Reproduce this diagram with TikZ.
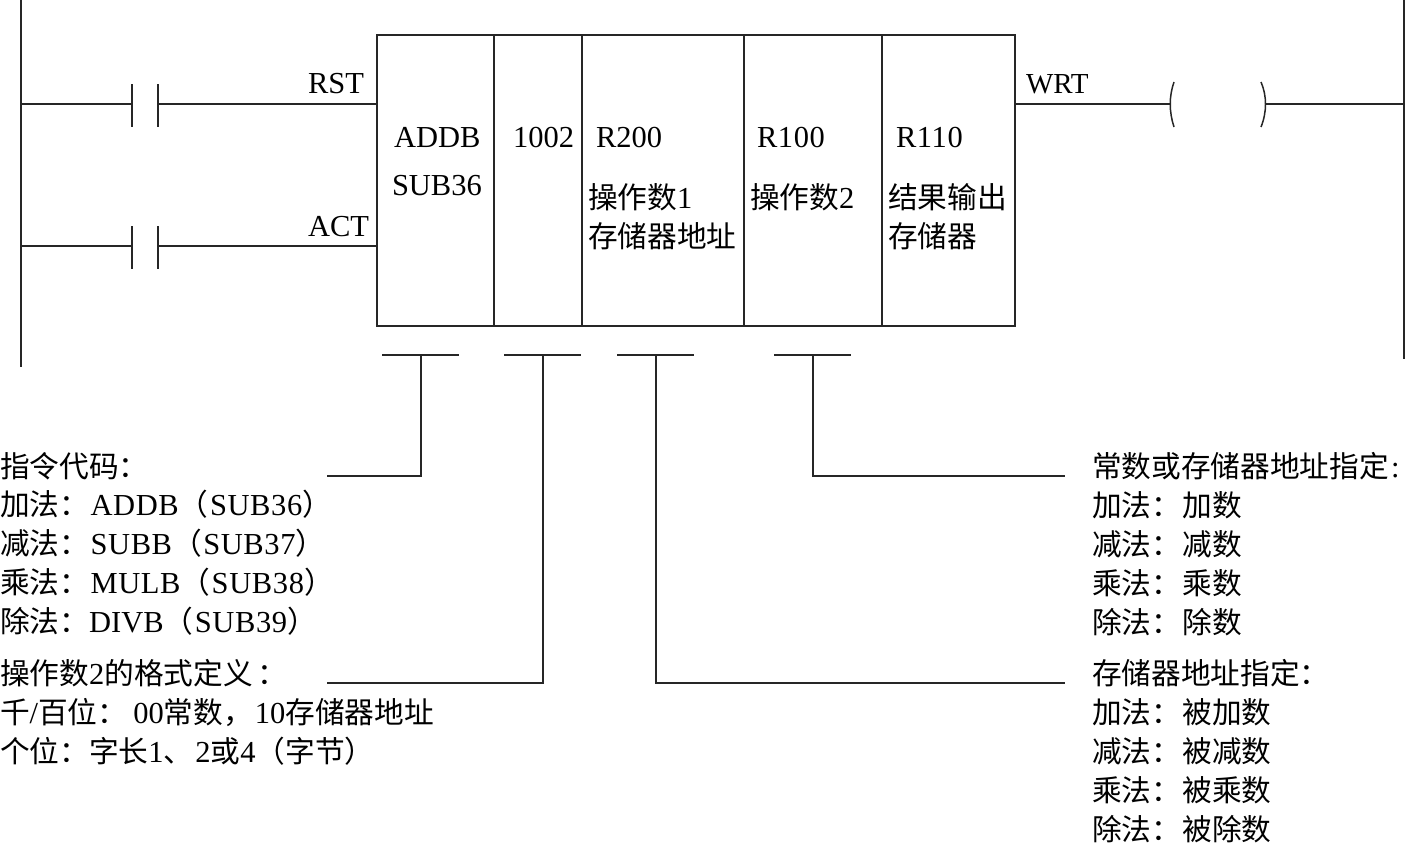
\documentclass[tikz,border=0pt]{standalone}
\usepackage{fontspec}
\setmainfont{Liberation Serif}
\newfontfamily\cjk{Noto Sans CJK SC}
\newfontfamily\lat[LetterSpace=2]{Liberation Serif}
\newcommand{\C}[1]{{\cjk\fontsize{29.7}{32}\selectfont #1}}
\newcommand{\Lt}[1]{\hspace{1.5pt}{\lat #1}}
\tikzset{
  wire/.style={draw=black!85,line width=1.2pt},
  txt/.style={anchor=base west,inner sep=0pt,outer sep=0pt,font=\fontsize{30.5}{34}\selectfont,text=black},
  pad/.style={inner sep=0pt,minimum size=0pt},
}
\begin{document}
\begin{tikzpicture}[x=1pt,y=-1pt]
\useasboundingbox (0,0) rectangle (1405,843);
% rails
\coordinate (railLT) at (21,0); \coordinate (railLB) at (21,367);
\coordinate (railRT) at (1404,0); \coordinate (railRB) at (1404,359);
\draw[wire] (railLT) -- (railLB);
\draw[wire] (railRT) -- (railRB);
% main box
\node[pad] (boxTL) at (377,35) {}; \node[pad] (boxBR) at (1015,326) {};
\draw[wire] (boxTL) rectangle (boxBR);
\foreach \x/\n in {494/a,582/b,744/c,882/d}{
  \draw[wire] (\x,35) -- (\x,326);
}
% contacts
\coordinate (rstL) at (21,104); \coordinate (rstC1) at (132,104); \coordinate (rstC2) at (158,104); \coordinate (rstE) at (377,104);
\coordinate (actL) at (21,246); \coordinate (actC1) at (132,246); \coordinate (actC2) at (158,246); \coordinate (actE) at (377,246);
\draw[wire] (rstL) -- (rstC1); \draw[wire] (rstC2) -- (rstE);
\draw[wire] (actL) -- (actC1); \draw[wire] (actC2) -- (actE);
\draw[wire] (132,84) -- (132,127); \draw[wire] (158,84) -- (158,127);
\draw[wire] (132,226) -- (132,269); \draw[wire] (158,226) -- (158,269);
% coil
\coordinate (wrtS) at (1015,104); \coordinate (wrtC) at (1170,104);
\coordinate (coilR) at (1266,104); \coordinate (railR) at (1404,104);
\draw[wire] (wrtS) -- (wrtC);
\draw[wire] (coilR) -- (railR);
\draw[wire,line width=1.5pt] (1174,82) .. controls (1169,96) and (1169,112) .. (1174,127);
\draw[wire,line width=1.5pt] (1261,82) .. controls (1267,96) and (1267,112) .. (1261,127);
% brackets
\draw[wire] (382,355) -- (459,355);
\draw[wire] (504,355) -- (581,355);
\draw[wire] (617,355) -- (694,355);
\draw[wire] (774,355) -- (851,355);
\draw[wire] (421,355) -- (421,476) -- (327,476);
\draw[wire] (543,355) -- (543,683) -- (327,683);
\draw[wire] (656,355) -- (656,683) -- (1065,683);
\draw[wire] (813,355) -- (813,476) -- (1065,476);
% labels
\node[txt] (tRST) at (308,93) {RST};
\node[txt] (tACT) at (308,236) {ACT};
\node[txt,font=\fontsize{29}{32}\selectfont] (tWRT) at (1026,93) {WRT};
\node[txt] (tADDB) at (394,147) {ADDB};
\node[txt] (tSUB) at (392,195) {SUB36};
\node[txt] (t1002) at (513,147) {1002};
\node[txt] (tR200) at (596,147) {R200};
\node[txt] (tR100) at (757,147) {{\lat R100}};
\node[txt] (tR110) at (896,147) {{\lat R110}};
\node[txt] (tO1) at (588,208) {\C{操作数}1};
\node[txt] (tO1b) at (588,247) {\C{存储器地址}};
\node[txt] (tO2) at (750,208) {\C{操作数}2};
\node[txt] (tRes) at (888,208) {\C{结果输出}};
\node[txt] (tResb) at (888,247) {\C{存储器}};
% left notes
\node[txt] (l1) at (0,477) {\C{指令代码：}};
\node[txt] (l2) at (0,515) {\C{加法：}\Lt{ADDB}\C{（}\Lt{SUB36}\C{）}};
\node[txt] (l3) at (0,554) {\C{减法：}\Lt{SUBB}\C{（}\Lt{SUB37}\C{）}};
\node[txt] (l4) at (0,593) {\C{乘法：}\Lt{MULB}\C{（}\Lt{SUB38}\C{）}};
\node[txt] (l5) at (0,632) {\C{除法：}DIVB\C{（}\Lt{SUB39}\C{）}};
\node[txt] (l6) at (0,684) {\C{操作数}2\C{的格式定义}\hspace{5pt}\C{：}};
\node[txt] (l7) at (0,723) {\C{千}/\C{百位：}\hspace{6pt}00\C{常数，}\hspace{2pt}10\C{存储器地址}};
\node[txt] (l8) at (0,762) {\C{个位：字长}1\C{、}\hspace{2pt}2\C{或}4\C{（字节）}};
% right notes
\node[txt] (r1) at (1092,477) {\C{常数或存储器地址指定}\hspace{2pt}:};
\node[txt] (r2) at (1092,516) {\C{加法：}\hspace{1.5pt}\C{加数}};
\node[txt] (r3) at (1092,555) {\C{减法：}\hspace{1.5pt}\C{减数}};
\node[txt] (r4) at (1092,594) {\C{乘法：}\hspace{1.5pt}\C{乘数}};
\node[txt] (r5) at (1092,633) {\C{除法：}\hspace{1.5pt}\C{除数}};
\node[txt] (r6) at (1092,684) {\C{存储器地址指定：}};
\node[txt] (r7) at (1092,723) {\C{加法：}\hspace{1.5pt}\C{被加数}};
\node[txt] (r8) at (1092,762) {\C{减法：}\hspace{1.5pt}\C{被减数}};
\node[txt] (r9) at (1092,801) {\C{乘法：}\hspace{1.5pt}\C{被乘数}};
\node[txt] (r10) at (1092,840) {\C{除法：}\hspace{1.5pt}\C{被除数}};
\end{tikzpicture}
\end{document}
